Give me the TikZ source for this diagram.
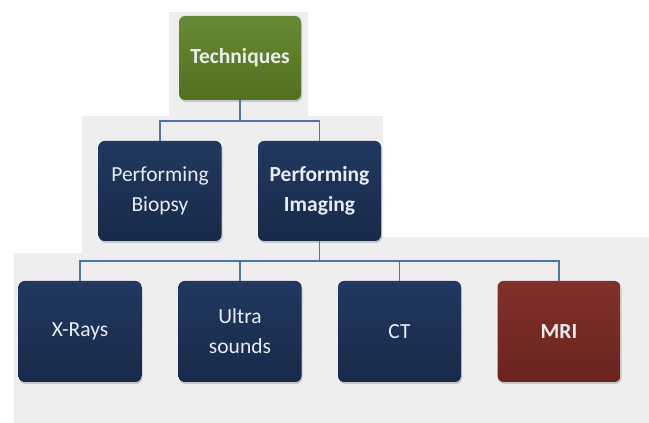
\documentclass[tikz,border=0pt]{standalone}
\usepackage{fontspec}
\setmainfont{Carlito}
\usetikzlibrary{shadows}
\definecolor{bggrey}{HTML}{EEEEEE}
\definecolor{navytop}{HTML}{213860}
\definecolor{navybot}{HTML}{172A48}
\definecolor{greentop}{HTML}{688A33}
\definecolor{greenbot}{HTML}{52701F}
\definecolor{redtop}{HTML}{82302A}
\definecolor{redbot}{HTML}{6A241E}
\definecolor{conn}{HTML}{4A78AE}
\definecolor{txt}{HTML}{E9ECF1}
\tikzset{
  box/.style={rounded corners=6pt, minimum width=123pt, minimum height=100pt,
    align=center, text=txt, font=\fontsize{21.5}{30}\selectfont, inner sep=0pt,
    drop shadow={opacity=0.35, shadow xshift=1pt, shadow yshift=-2pt}},
  navybox/.style={box, top color=navytop, bottom color=navybot},
  greenbox/.style={box, top color=greentop, bottom color=greenbot, minimum width=122pt, minimum height=84pt},
  redbox/.style={box, top color=redtop, bottom color=redbot},
  link/.style={draw=conn, line width=1.8pt}
}
\begin{document}
\begin{tikzpicture}[x=1pt,y=1pt]
\useasboundingbox (0,0) rectangle (649,423);
% background grey panels
\fill[bggrey] (169,411) rectangle (308,307);
\fill[bggrey] (82,307) rectangle (383,170);
\fill[bggrey] (82,186) rectangle (649,0);
\fill[bggrey] (14,170) rectangle (649,0);
% nodes
\node[greenbox] (tech) at (240,365) {\textbf{Techniques}};
\node[navybox] (biopsy) at (160,232) {Performing\\Biopsy};
\node[navybox] (imaging) at (319.5,232) {\textbf{Performing}\\\textbf{Imaging}};
\node[navybox, minimum height=101pt] (xray) at (80,91.5) {X-Rays};
\node[navybox, minimum height=101pt] (us) at (240,91.5) {Ultra\\sounds};
\node[navybox, minimum height=101pt] (ct) at (399.5,91.5) {CT};
\node[redbox, minimum height=101pt] (mri) at (559,91.5) {\textbf{MRI}};
% connectors
\coordinate (bus1) at (240,302);
\coordinate (bus2) at (319.5,162);
\draw[link] (tech.south) -- (bus1) -| (biopsy.north);
\draw[link] (bus1) -| (imaging.north);
\draw[link] (imaging.south) -- (bus2) -| (xray.north);
\draw[link] (bus2) -| (us.north);
\draw[link] (bus2) -| (ct.north);
\draw[link] (bus2) -| (mri.north);
\end{tikzpicture}
\end{document}
